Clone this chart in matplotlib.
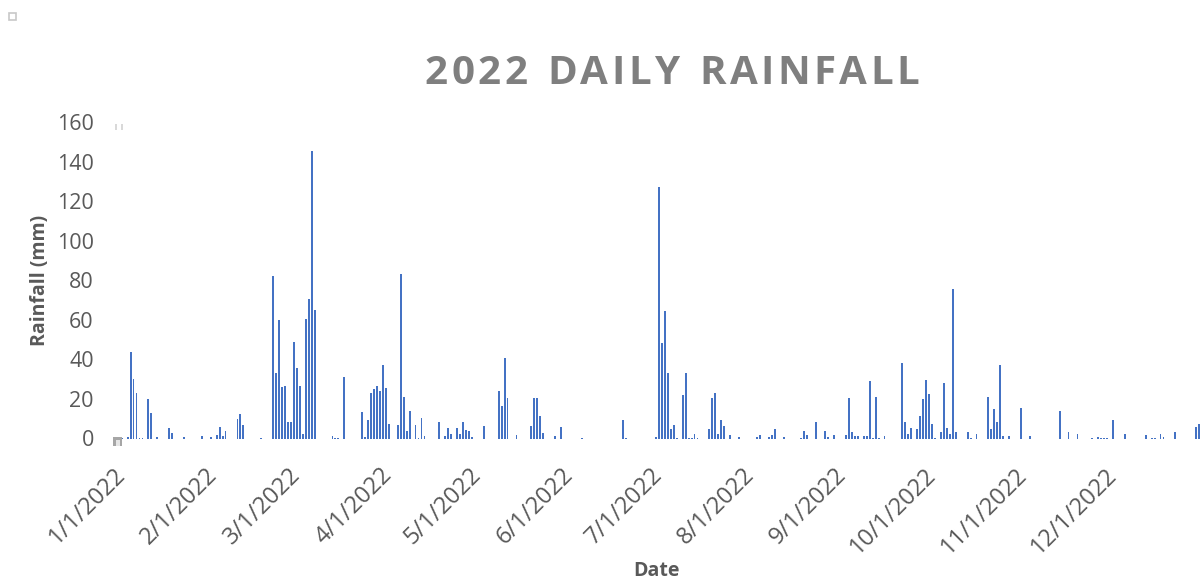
import matplotlib
matplotlib.use("Agg")
import matplotlib.pyplot as plt
from matplotlib.patches import Rectangle
from matplotlib.transforms import ScaledTranslation
import numpy as np
import pandas as pd

plt.rcParams['font.family'] = ['Open Sans', 'DejaVu Sans']

# 2022 daily rainfall: day of year (0 = 1 Jan) and rainfall in mm, dry days omitted
rain_day = [0, 2, 3, 4, 5, 6, 7, 9, 10, 12, 16, 17, 21, 27, 30, 32, 33, 34, 35,
            39, 40, 41, 47, 51, 52, 53, 54, 55, 56, 57, 58, 59, 60, 61, 62, 63,
            64, 65, 71, 72, 73, 75, 81, 82, 83, 84, 85, 86, 87, 88, 89, 90, 93,
            94, 95, 96, 97, 99, 100, 101, 102, 107, 109, 110, 111, 113, 114, 115,
            116, 117, 118, 122, 127, 128, 129, 130, 133, 138, 139, 140, 141, 142,
            146, 148, 155, 169, 170, 180, 181, 182, 183, 184, 185, 186, 187, 189,
            190, 191, 192, 193, 194, 198, 199, 200, 201, 202, 203, 205, 208, 214,
            215, 218, 219, 220, 223, 229, 230, 231, 234, 237, 238, 240, 244, 245,
            246, 247, 248, 250, 251, 252, 253, 254, 255, 257, 263, 264, 265, 266,
            268, 269, 270, 271, 272, 273, 274, 276, 277, 278, 279, 280, 281, 285,
            286, 288, 292, 293, 294, 295, 296, 297, 299, 303, 306, 316, 319, 322,
            327, 329, 330, 331, 332, 334, 338, 345, 347, 348, 350, 351, 355, 362,
            363]
rain_mm = [0.5, 1, 43.8, 30.3, 23.2, 0.3, 0.5, 20.2, 13.1, 1, 5.2, 3, 1, 1.5, 1,
           2, 6, 1.3, 3.9, 9.8, 12.5, 6.7, 0.5, 82.2, 33.3, 60.1, 25.9, 26.6, 8.2,
           8.2, 49, 35.4, 26.6, 2.2, 60.3, 70.7, 145.3, 65.2, 1.3, 0.5, 0.5, 31.3,
           13.5, 1, 9.3, 23.2, 24.9, 26.6, 24.1, 37.2, 25.4, 7.2, 6.9, 83.2, 21, 4,
           14.1, 6.7, 0.5, 10.6, 1.3, 8.1, 1.3, 5.4, 2.2, 5.4, 2.2, 8.1, 4.4, 4, 1,
           6.2, 23.9, 16.5, 40.6, 20.4, 1.7, 6.2, 20.4, 20.4, 11.4, 2.7, 1.3, 5.7,
           0.5, 9.3, 0.5, 1, 127.3, 48.1, 64.3, 33, 4.7, 6.6, 0.5, 22.2, 33, 0.5,
           0.5, 2.4, 0.5, 4.7, 20.5, 23.2, 2.4, 9.6, 6.2, 1.7, 1, 1, 1.7, 1, 1.7,
           4.7, 1, 0.5, 3.7, 1.7, 8.1, 4, 1, 1.7, 1.7, 20.5, 3.4, 1.2, 1.2, 1.2,
           1.2, 29.1, 0.5, 21.2, 0.3, 1.3, 38, 8.1, 2.4, 5.2, 4.7, 11.4, 19.9, 29.6,
           22.6, 7.2, 0.5, 3.2, 27.9, 5.2, 2.2, 75.4, 3.2, 3.4, 0.3, 2.2, 21.2, 4.7,
           15, 8.2, 37, 1.5, 1.3, 15.2, 1.3, 14.1, 3.4, 2.4, 0.5, 0.8, 0.5, 0.5,
           0.5, 9.4, 2.4, 1.7, 0.5, 0.5, 2.5, 0.7, 3.5, 5.7, 7.1]

month_starts = pd.date_range('2022-01-01', '2022-12-01', freq='MS')
month_labels = [f"{d.month}/1/{d.year}" for d in month_starts]
year_start = pd.Timestamp('2022-01-01')

tick_days = [(d - year_start).days for d in month_starts]

fig = plt.figure(figsize=(12.03, 5.80), dpi=100)
ax = fig.add_axes([120.2 / 1203, 1 - 438.5 / 580, (1203.6 - 120.2) / 1203, (438.5 - 122) / 580])

ax.bar(rain_day, rain_mm, width=0.62, color='#4472C4', linewidth=0)

ax.set_xlim(-0.5, 364.5)
ax.set_ylim(0, 160)
ax.set_yticks(np.arange(0, 161, 20))
ax.set_xticks(tick_days)
ax.set_xticklabels(month_labels, rotation=45, ha='right', va='center',
                   rotation_mode='anchor', fontsize=17)
shift = ScaledTranslation(-5 / 100, 0, fig.dpi_scale_trans)
for lbl in ax.get_xticklabels():
    lbl.set_transform(lbl.get_transform() + shift)
for s in ax.spines.values():
    s.set_visible(False)
ax.tick_params(axis='both', length=0, colors='#595959')
ax.tick_params(axis='y', pad=19, labelsize=15.5)
ax.tick_params(axis='x', pad=24)

ax.set_ylabel('Rainfall (mm)', fontsize=14, fontweight='bold', color='#595959', labelpad=5)
ax.set_xlabel('Date', fontsize=14, fontweight='bold', color='#595959', va='center')
ax.xaxis.set_label_coords((657 - 120.2) / 1083.4, -(571.5 - 438.5) / 316.5)

# title with Excel-style character spacing
title = '2022 DAILY RAINFALL'
fig.canvas.draw()
renderer = fig.canvas.get_renderer()
tracking = 3.4
widths = []
for ch in title:
    t = fig.text(0, 0, ch if ch != ' ' else 'n', fontsize=29, fontweight='bold')
    w = t.get_window_extent(renderer).width
    if ch == ' ':
        w *= 0.5
    widths.append(w)
    t.remove()
total = sum(widths) + tracking * (len(title) - 1)
x = 672 - total / 2
for ch, w in zip(title, widths):
    if ch != ' ':
        fig.text(x / 1203, 1 - 73 / 580, ch, fontsize=29, fontweight='bold',
                 color='#7F7F7F', ha='left', va='center')
    x += w + tracking

# small grey selection handles seen in the screenshot
def px_rect(x, y, w, h, **kw):
    fig.patches.append(Rectangle((x / 1203, 1 - (y + h) / 580), w / 1203, h / 580,
                                 transform=fig.transFigure, **kw))

px_rect(9, 13, 7, 7, facecolor='none', edgecolor='#C8C8C8', linewidth=1.2)
px_rect(115, 124, 2, 6, facecolor='#D9D9D9', edgecolor='none')
px_rect(121, 124, 2, 6, facecolor='#D9D9D9', edgecolor='none')
px_rect(113, 437, 9, 9, facecolor='#A6A6A6', edgecolor='none')
px_rect(115.5, 440, 4, 6, facecolor='#E6E6E6', edgecolor='none')

fig.savefig('out.png', dpi=100)
